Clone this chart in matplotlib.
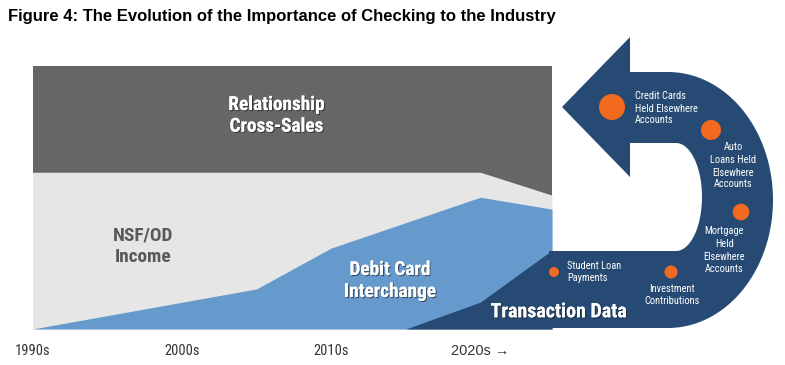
import os
import numpy as np
import matplotlib
matplotlib.use("Agg")
import matplotlib.pyplot as plt
from matplotlib import font_manager
from matplotlib.font_manager import FontProperties
from matplotlib.ft2font import FT2Font
from matplotlib.textpath import TextPath
from matplotlib.path import Path
from matplotlib.patches import PathPatch, Circle
import matplotlib.patheffects as pe

# ---------------- data ----------------
years = [1990, 2005, 2010, 2020, 2024.8]
relationship_top = [100, 100, 100, 100, 100]
nsf_od_top = [59.5, 59.5, 59.5, 59.5, 50.8]
debit_top = [0, 15.2, 30.7, 50.0, 45.5]
trans_years = [2015, 2020, 2024.8]
trans_top = [0, 10.2, 29.9]

tick_years = [1990, 2000, 2010, 2020]
tick_labels = ["1990s", "2000s", "2010s", "2020s \u2192"]

dot_labels = ["Credit Cards\nHeld Elsewhere\nAccounts",
              "Auto\nLoans Held\nElsewhere\nAccounts",
              "Mortgage\nHeld\nElsewhere\nAccounts",
              "Investment\nContributions",
              "Student Loan\nPayments"]

# ---------------- style ----------------
C_DARKGREY = "#666666"
C_LIGHTGREY = "#e6e6e6"
C_LIGHTBLUE = "#6699cc"
C_DARKBLUE = "#264a73"
C_ORANGE = "#f26a1f"


def pick_font(bold):
    best = None
    for f in font_manager.fontManager.ttflist:
        fn = os.path.basename(f.fname).lower()
        key = fn + " " + f.name.lower()
        if any(w in fn for w in ("italic", "oblique", "mono", "serif", "light", "thin",
                                  "medium", "black", "semibold", "extrabold", "heavy", "demibold")):
            continue
        if ("bold" in fn) != bold:
            continue
        if "liberation" in key and "narrow" in key:
            rank = 0
        elif "arial" in key and "narrow" in key:
            rank = 0
        elif "roboto" in key and "condensed" in key:
            rank = 1
        elif "notosans" in fn and "condensed" in fn and "semi" not in fn and "extra" not in fn and "cjk" not in fn:
            rank = 2
        elif "opensans" in fn.replace("_", "").replace(" ", "") and "condensed" in fn:
            rank = 3
        elif "dejavu" in key and "condensed" in key:
            rank = 4
        else:
            continue
        if best is None or rank < best[0]:
            best = (rank, f.fname)
    if best:
        return FontProperties(fname=best[1]), best[1]
    return FontProperties(family="Liberation Sans", weight="bold" if bold else "normal"), None


FP_BOLD, FN_BOLD = pick_font(True)
FP_REG, FN_REG = pick_font(False)


def fit_px(fp, line, target_w, target_cap):
    w = TextPath((0, 0), line, size=100, prop=fp).get_extents().width / 100
    cap = TextPath((0, 0), "H", size=100, prop=fp).get_extents().height / 100
    return min(target_cap / cap, target_w / w)


def sized(fp, px):
    p = fp.copy()
    p.set_size(px * 0.72)
    return p


W, H = 785, 365
fig = plt.figure(figsize=(W / 100, H / 100), dpi=100)
fig.patch.set_facecolor("white")

L, R, T, B = 32.5, 552, 65.5, 329
ax = fig.add_axes([L / W, (H - B) / H, (R - L) / W, (B - T) / H])
ax.set_xlim(years[0], years[-1])
ax.set_ylim(0, 100)
ax.fill_between(years, 0, relationship_top, color=C_DARKGREY, lw=0)
ax.fill_between(years, 0, nsf_od_top, color=C_LIGHTGREY, lw=0)
ax.fill_between(years, 0, debit_top, color=C_LIGHTBLUE, lw=0)
ax.fill_between(trans_years, 0, trans_top, color=C_DARKBLUE, lw=0)
for s in ax.spines.values():
    s.set_visible(False)
ax.set_yticks([])
ax.set_xticks(tick_years)
tick_px = fit_px(FP_REG, "1990s", 38, 10.3)
ax.set_xticklabels(tick_labels)
arrow_ok = True
if FN_REG:
    try:
        arrow_ok = 0x2192 in FT2Font(FN_REG).get_charmap()
    except Exception:
        arrow_ok = False
for lab in ax.get_xticklabels():
    fp = FP_REG
    if "\u2192" in lab.get_text() and not arrow_ok:
        fp = FontProperties(family=["Liberation Sans", "DejaVu Sans"])
    lab.set_fontproperties(sized(fp, tick_px))
    lab.set_color("#333333")
    lab.set_va("baseline")
ax.tick_params(axis="x", length=0, pad=(355 - B) * 0.72)

# ---------------- overlay (pixel coordinates) ----------------
ov = fig.add_axes([0, 0, 1, 1], zorder=5)
ov.set_xlim(0, W)
ov.set_ylim(H, 0)
ov.axis("off")
ov.patch.set_alpha(0)

# U-shaped arrow continuing the transaction band
cx_in, cy_in, rx_in, ry_in = 676, 197, 26, 54
cx_out, cy_out, rx_out, ry_out = 668, 200, 105, 128
t_in = np.linspace(np.pi / 2, -np.pi / 2, 60)
t_out = np.linspace(-np.pi / 2, np.pi / 2, 80)
verts = [(549, cy_in + ry_in)]
verts += list(zip(cx_in + rx_in * np.cos(t_in), cy_in + ry_in * np.sin(t_in)))
verts += [(630, cy_in - ry_in), (630, 177), (562, 107), (630, 37), (630, cy_out - ry_out)]
verts += list(zip(cx_out + rx_out * np.cos(t_out), cy_out + ry_out * np.sin(t_out)))
verts += [(549, cy_out + ry_out), (549, cy_in + ry_in)]
codes = [Path.MOVETO] + [Path.LINETO] * (len(verts) - 2) + [Path.CLOSEPOLY]
ov.add_patch(PathPatch(Path(verts, codes), facecolor=C_DARKBLUE, edgecolor="none"))

# orange dots
dot_xy = [(612, 107), (711, 130), (741, 212), (671, 272), (554, 272)]
dot_r = [13, 10, 8.3, 6.5, 5]
for (x, y), r in zip(dot_xy, dot_r):
    ov.add_patch(Circle((x, y), r, facecolor=C_ORANGE, edgecolor="none"))


def block(text, x, baselines, fp, px, color, ha, effects=None):
    p = sized(fp, px)
    for line, yb in zip(text.split("\n"), baselines):
        ov.text(x, yb, line, fontproperties=p, color=color, ha=ha, va="baseline",
                path_effects=effects)


small_px = fit_px(FP_REG, "Held Elsewhere", 66, 7.4)
block(dot_labels[0], 635, [99, 111.7, 123.3], FP_REG, small_px, "white", "left")
block(dot_labels[1], 733, [150, 163.3, 175.7, 187.3], FP_REG, small_px, "white", "center")
block(dot_labels[2], 724.3, [234.3, 247.3, 260, 271.7], FP_REG, small_px, "white", "center")
block(dot_labels[3], 672.3, [292.3, 304], FP_REG, small_px, "white", "center")
block(dot_labels[4], 567.3, [269, 280.7], FP_REG, small_px, "white", "left")

shadow = [pe.withSimplePatchShadow(offset=(0.8, -0.8), shadow_rgbFace="#1a1a1a", alpha=0.6), pe.Normal()]
big_px = fit_px(FP_BOLD, "Relationship", 103, 13.7)
block("Relationship\nCross-Sales", 276.5, [110, 131.7], FP_BOLD, big_px, "white", "center", shadow)
block("NSF/OD\nIncome", 143, [240.7, 261.7], FP_BOLD, big_px, "#595959", "center")
block("Debit Card\nInterchange", 390, [275, 297], FP_BOLD, big_px, "white", "center", shadow)
td_px = fit_px(FP_BOLD, "Transaction Data", 136, 14.2)
block("Transaction Data", 559, [317.3], FP_BOLD, td_px, "white", "center", shadow)

fig.text(8 / W, 1 - 17 / H, "Figure 4: The Evolution of the Importance of Checking to the Industry",
         family="Liberation Sans", fontweight="bold", fontsize=12.0, color="black", va="center", ha="left")

fig.savefig("out.png", dpi=100, facecolor="white")
